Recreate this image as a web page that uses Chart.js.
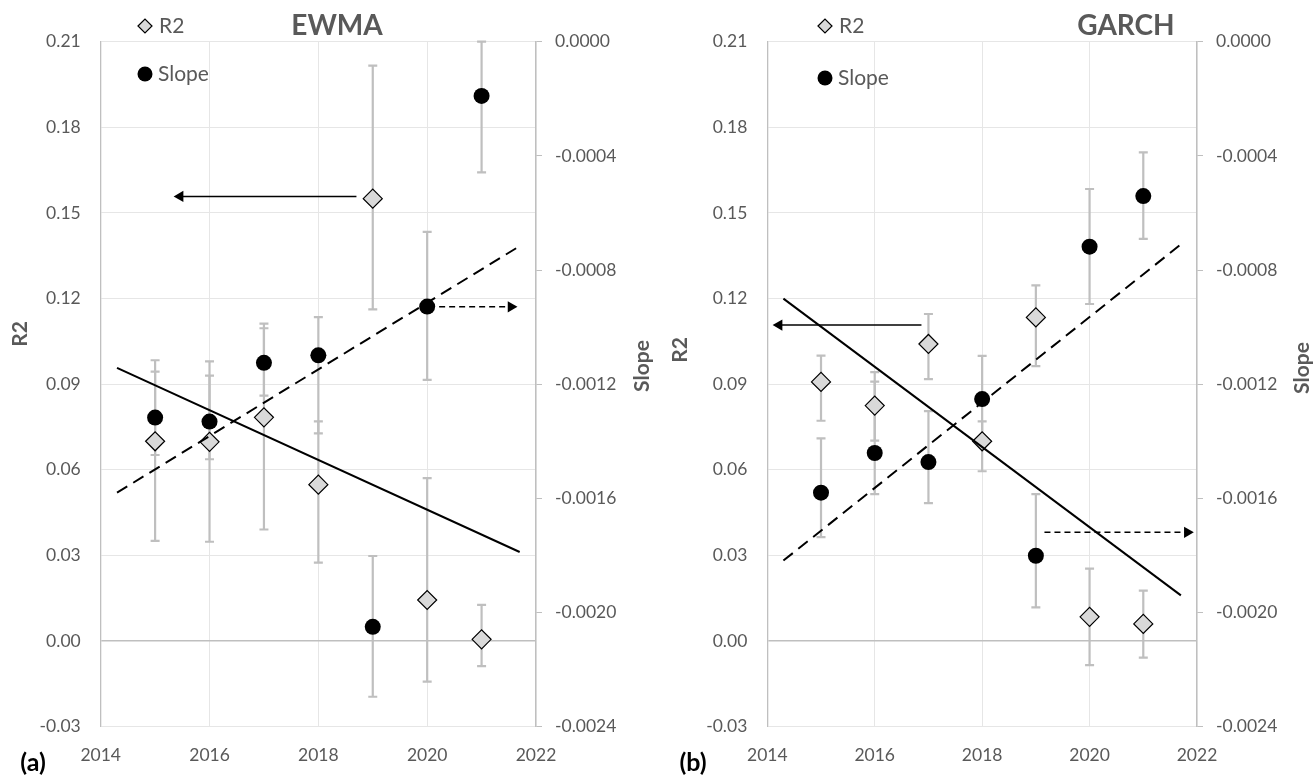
<!DOCTYPE html>
<html>
<head>
<meta charset="utf-8">
<script src="https://cdn.jsdelivr.net/npm/chart.js@4.4.1/dist/chart.umd.min.js"></script>
<style>
  body { margin: 0; background: #fff; }
  .panel { position: absolute; top: 0; height: 777px; }
  #panelA { left: 0; width: 656px; }
  #panelB { left: 656px; width: 657px; }
</style>
</head>
<body>
<div class="panel" id="panelA"><canvas id="chartA"></canvas></div>
<div class="panel" id="panelB"><canvas id="chartB"></canvas></div>
<script>
// tahun pengamatan
const years = [2015, 2016, 2017, 2018, 2019, 2020, 2021];

// ---- EWMA ----
const ewmaR2 = [0.0700, 0.0698, 0.0784, 0.0548, 0.1550, 0.0144, 0.0006];
const ewmaR2Low = [0.0351, 0.0348, 0.0391, 0.0275, 0.1162, -0.0142, -0.0088];
const ewmaR2High = [0.0984, 0.0980, 0.1112, 0.0770, 0.2016, 0.0571, 0.0127];
const ewmaSlope = [-0.001317, -0.001331, -0.001125, -0.001099, -0.002050, -0.000928, -0.000190];
const ewmaSlopeLow = [-0.001448, -0.001463, -0.001240, -0.001372, -0.002295, -0.001185, -0.000458];
const ewmaSlopeHigh = [-0.001156, -0.001170, -0.001004, -0.000965, -0.001802, -0.000666, 0.000000];
const ewmaTrendYears = [2014.3, 2021.7];
const ewmaR2Trend = [0.0957, 0.0312];
const ewmaSlopeTrend = [-0.001580, -0.000716];
const ewmaR2ArrowYears = [2018.70, 2015.46];
const ewmaR2ArrowLevel = 0.1558;
const ewmaSlopeArrowYears = [2020.22, 2021.54];
const ewmaSlopeArrowLevel = -0.000929;

// ---- GARCH ----
const garchR2 = [0.0908, 0.0825, 0.1041, 0.0700, 0.1134, 0.0085, 0.0060];
const garchR2Low = [0.0772, 0.0702, 0.0918, 0.0595, 0.0963, -0.0084, -0.0058];
const garchR2High = [0.1000, 0.0942, 0.1146, 0.0770, 0.1246, 0.0254, 0.0177];
const garchSlope = [-0.001580, -0.001441, -0.001473, -0.001252, -0.001801, -0.000718, -0.000541];
const garchSlopeLow = [-0.001736, -0.001585, -0.001617, -0.001402, -0.001982, -0.000919, -0.000691];
const garchSlopeHigh = [-0.001390, -0.001191, -0.001294, -0.001101, -0.001585, -0.000516, -0.000388];
const garchTrendYears = [2014.3, 2021.7];
const garchR2Trend = [0.1200, 0.0160];
const garchSlopeTrend = [-0.001818, -0.000710];
const garchR2ArrowYears = [2016.87, 2014.22];
const garchR2ArrowLevel = 0.1107;
const garchSlopeArrowYears = [2019.16, 2021.82];
const garchSlopeArrowLevel = -0.001719;

// sumbu
const yearMin = 2014, yearMax = 2022, yearStep = 2;
const r2Min = -0.03, r2Max = 0.21, r2Step = 0.03;
const slopeMin = -0.0024, slopeMax = 0, slopeStep = 0.0004;

const GREY_TEXT = '#595959';
const AXIS_GREY = '#bfbfbf';
const GRID_GREY = '#e6e6e6';
const ERR_GREY = '#bfbfbf';
const TICK_SIZE = 17.5;

Chart.defaults.font.family = 'Lato';
Chart.defaults.color = GREY_TEXT;

function pts(xs, ys) {
    return xs.map((x, i) => ({ x: x, y: ys[i] }));
}
function flat(xs, level) {
    return xs.map(x => ({ x: x, y: level }));
}

// error bar digambar di bawah titik
const errorBarPlugin = {
    id: 'errorBars',
    beforeDatasetsDraw(chart) {
        const ctx = chart.ctx;
        const xs = chart.scales.x;
        ctx.save();
        ctx.strokeStyle = ERR_GREY;
        ctx.lineWidth = 2.2;
        chart.data.datasets.forEach(ds => {
            if (!ds.errLow) return;
            const ys = chart.scales[ds.yAxisID];
            ds.data.forEach((p, i) => {
                const px = xs.getPixelForValue(p.x);
                const lo = ys.getPixelForValue(ds.errLow[i]);
                const hi = ys.getPixelForValue(ds.errHigh[i]);
                ctx.beginPath();
                ctx.moveTo(px, lo); ctx.lineTo(px, hi);
                ctx.moveTo(px - 4.5, lo); ctx.lineTo(px + 4.5, lo);
                ctx.moveTo(px - 4.5, hi); ctx.lineTo(px + 4.5, hi);
                ctx.stroke();
            });
        });
        ctx.restore();
    }
};

// judul, label sumbu, legend manual
const decoPlugin = {
    id: 'deco',
    afterDraw(chart, args, o) {
        const ctx = chart.ctx;
        ctx.save();
        ctx.fillStyle = GREY_TEXT;
        ctx.font = 'bold 28px Lato';
        ctx.textAlign = 'center';
        ctx.textBaseline = 'alphabetic';
        ctx.fillText(o.title, o.titleX, 35);

        ctx.font = 'bold 21px Lato';
        ctx.textBaseline = 'middle';
        ctx.save();
        ctx.translate(o.r2TitleX, o.r2TitleY);
        ctx.rotate(-Math.PI / 2);
        ctx.fillText('R2', 0, 0);
        ctx.restore();
        ctx.save();
        ctx.translate(o.slopeTitleX, o.slopeTitleY);
        ctx.rotate(-Math.PI / 2);
        ctx.fillText('Slope', 0, 0);
        ctx.restore();

        ctx.fillStyle = '#000';
        ctx.font = 'bold 25px Lato';
        ctx.textBaseline = 'alphabetic';
        ctx.fillText(o.letter, o.letterX, 771);

        // legend
        ctx.fillStyle = '#d9d9d9';
        ctx.strokeStyle = '#000';
        ctx.lineWidth = 1.2;
        Chart.helpers.drawPoint(ctx, { pointStyle: 'rectRot', radius: 7, borderWidth: 1.2, rotation: 0 }, o.legendX, 26);
        ctx.fillStyle = '#000';
        Chart.helpers.drawPoint(ctx, { pointStyle: 'circle', radius: 7.5, borderWidth: 0, rotation: 0 }, o.legendX, o.slopeLegendY);
        ctx.fillStyle = GREY_TEXT;
        ctx.font = '21px Lato';
        ctx.textAlign = 'left';
        ctx.fillText('R2', o.legendX + 14, 33);
        ctx.fillText('Slope', o.legendX + 13, o.slopeLegendY + 7);
        ctx.restore();
    }
};

function makeChart(canvasId, d) {
    const ctx = document.getElementById(canvasId).getContext('2d');
    return new Chart(ctx, {
        type: 'scatter',
        data: {
            datasets: [
                {   // garis tren R2
                    type: 'line', data: pts(d.trendYears, d.r2Trend), yAxisID: 'y',
                    borderColor: '#000', borderWidth: 2, pointRadius: 0, order: 0
                },
                {   // garis tren slope
                    type: 'line', data: pts(d.trendYears, d.slopeTrend), yAxisID: 'y2',
                    borderColor: '#000', borderWidth: 2, borderDash: [12, 7], pointRadius: 0, order: 0
                },
                {   // panah ke sumbu R2
                    type: 'line', data: flat(d.r2ArrowYears, d.r2ArrowLevel), yAxisID: 'y',
                    borderColor: '#000', borderWidth: 1.5, pointRadius: [0, 6.5], pointStyle: 'triangle',
                    pointRotation: [0, -90], pointBackgroundColor: '#000', pointBorderWidth: 0, order: 0
                },
                {   // panah ke sumbu slope
                    type: 'line', data: flat(d.slopeArrowYears, d.slopeArrowLevel), yAxisID: 'y2',
                    borderColor: '#000', borderWidth: 1.5, borderDash: [6, 4], pointRadius: [0, 6.5], pointStyle: 'triangle',
                    pointRotation: [0, 90], pointBackgroundColor: '#000', pointBorderWidth: 0, order: 0
                },
                {
                    label: 'Slope', data: pts(years, d.slope), yAxisID: 'y2',
                    errLow: d.slopeLow, errHigh: d.slopeHigh,
                    pointStyle: 'circle', pointRadius: 8, backgroundColor: '#000', borderColor: '#000', borderWidth: 0, order: 1
                },
                {
                    label: 'R2', data: pts(years, d.r2), yAxisID: 'y',
                    errLow: d.r2Low, errHigh: d.r2High,
                    pointStyle: 'rectRot', pointRadius: 9.5, backgroundColor: '#d9d9d9', borderColor: '#000', borderWidth: 1.2, order: 2
                }
            ]
        },
        options: {
            responsive: true,
            maintainAspectRatio: false,
            animation: false,
            events: [],
            layout: { padding: { top: 41.7, left: 0, right: 0, bottom: 0 } },
            plugins: {
                legend: { display: false },
                tooltip: { enabled: false },
                deco: d.deco
            },
            scales: {
                x: {
                    type: 'linear', min: yearMin, max: yearMax,
                    afterFit: s => { s.height = 50.3; },
                    border: { display: false },
                    grid: { color: GRID_GREY, drawTicks: false },
                    ticks: { stepSize: yearStep, padding: 18, font: { size: TICK_SIZE }, callback: v => String(v) }
                },
                y: {
                    position: 'left', min: r2Min, max: r2Max,
                    afterFit: s => { s.width = d.leftWidth; },
                    border: { display: true, color: AXIS_GREY, width: 1.3 },
                    grid: {
                        drawTicks: false,
                        color: c => (Math.abs(c.tick.value) < 1e-9 ? AXIS_GREY : GRID_GREY),
                        lineWidth: c => (Math.abs(c.tick.value) < 1e-9 ? 1.5 : 1)
                    },
                    ticks: {
                        stepSize: r2Step, padding: 20, font: { size: TICK_SIZE },
                        callback: v => (Math.abs(v) < 1e-9 ? 0 : v).toFixed(2)
                    }
                },
                y2: {
                    position: 'right', min: slopeMin, max: slopeMax,
                    afterFit: s => { s.width = d.rightWidth; },
                    border: { display: true, color: AXIS_GREY, width: 1.3 },
                    grid: { drawOnChartArea: false, drawTicks: true, tickLength: 6, color: AXIS_GREY },
                    ticks: {
                        stepSize: slopeStep, padding: 13, font: { size: TICK_SIZE },
                        callback: v => (Math.abs(v) < 1e-12 ? 0 : v).toFixed(4)
                    }
                }
            }
        },
        plugins: [errorBarPlugin, decoPlugin]
    });
}

makeChart('chartA', {
    r2: ewmaR2, r2Low: ewmaR2Low, r2High: ewmaR2High,
    slope: ewmaSlope, slopeLow: ewmaSlopeLow, slopeHigh: ewmaSlopeHigh,
    trendYears: ewmaTrendYears, r2Trend: ewmaR2Trend, slopeTrend: ewmaSlopeTrend,
    r2ArrowYears: ewmaR2ArrowYears, r2ArrowLevel: ewmaR2ArrowLevel,
    slopeArrowYears: ewmaSlopeArrowYears, slopeArrowLevel: ewmaSlopeArrowLevel,
    leftWidth: 100.7, rightWidth: 120,
    deco: {
        title: 'EWMA', titleX: 337, letter: '(a)', letterX: 33,
        r2TitleX: 20, r2TitleY: 334, slopeTitleX: 642, slopeTitleY: 366,
        legendX: 145, slopeLegendY: 74
    }
});

makeChart('chartB', {
    r2: garchR2, r2Low: garchR2Low, r2High: garchR2High,
    slope: garchSlope, slopeLow: garchSlopeLow, slopeHigh: garchSlopeHigh,
    trendYears: garchTrendYears, r2Trend: garchR2Trend, slopeTrend: garchSlopeTrend,
    r2ArrowYears: garchR2ArrowYears, r2ArrowLevel: garchR2ArrowLevel,
    slopeArrowYears: garchSlopeArrowYears, slopeArrowLevel: garchSlopeArrowLevel,
    leftWidth: 111.3, rightWidth: 116,
    deco: {
        title: 'GARCH', titleX: 470, letter: '(b)', letterX: 37,
        r2TitleX: 24, r2TitleY: 350, slopeTitleX: 646, slopeTitleY: 368,
        legendX: 169, slopeLegendY: 78
    }
});
</script>
</body>
</html>
